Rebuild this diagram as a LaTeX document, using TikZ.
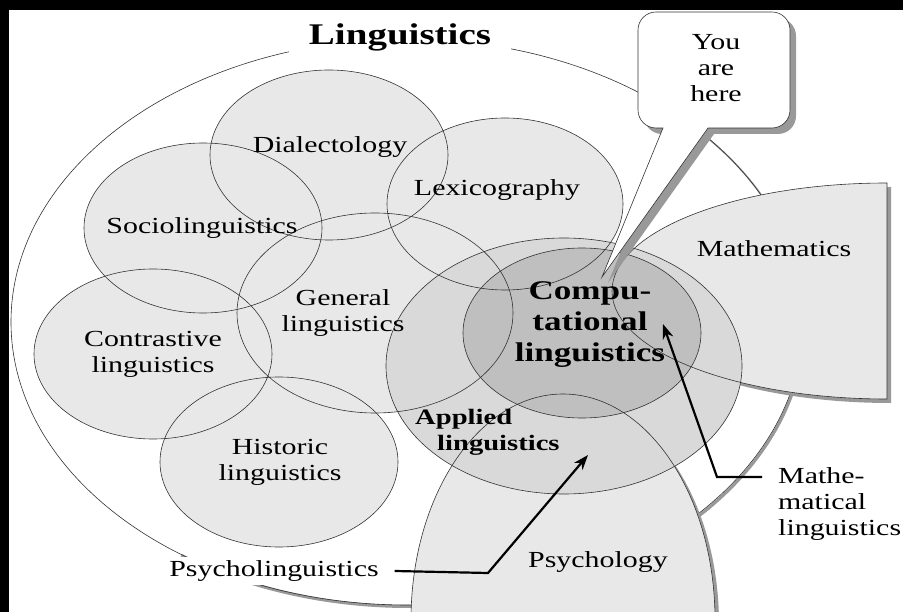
\documentclass[tikz,border=0pt]{standalone}
\usepackage{fontspec}
\setmainfont{Liberation Serif}[FakeStretch=1.3]
\usepackage{tikz}
\usetikzlibrary{shadows}
\usetikzlibrary{arrows.meta}
\definecolor{lgray}{gray}{0.91}
\definecolor{mgray}{gray}{0.85}
\definecolor{dgray}{gray}{0.75}
\definecolor{sgray}{gray}{0.6}
\newcommand\ovals{{329,155}/119/85, {203,228}/119/85, {505,204}/118/86,
    {375,313}/138/100, {153,354}/119/85, {279,462}/119/85}

\begin{document}
\begin{tikzpicture}[x=1pt, y=-1pt,
        O/.style={draw=black!80, line width=0.6pt},
        F/.style={fill=lgray},
        S/.style={drop shadow={shadow xshift=4pt, shadow yshift=-4pt, fill=sgray, opacity=1}},
        SB/.style={drop shadow={shadow xshift=6pt, shadow yshift=-6pt, fill=sgray, opacity=1}},
        SL/.style={sgray, line width=3pt, xshift=1.5pt, yshift=-1.5pt},
        T/.style={font=\fontsize{23}{26}\selectfont, align=center, inner sep=0pt},
        TB/.style={font=\fontsize{27}{31}\selectfont\bfseries, align=center, inner sep=0pt},
        A/.style={line width=2.2pt, ->, >={Stealth[length=15pt, width=11pt]}}
    ]
    \useasboundingbox (0,0) rectangle (903,612);
    \fill[black] (0,0) rectangle (903,612);
    \fill[white] (9,10) rectangle (903,612);

    % outer ellipse
    \draw[SL] (407,322) ++(125:396 and 283)
        arc[start angle=125, end angle=85, x radius=396, y radius=283];
    \draw[SL] (407,322) ++(5:396 and 283)
        arc[start angle=5, end angle=50, x radius=396, y radius=283];
    \draw[SL, line width=1.5pt] (407,322) ++(-42:396 and 283)
        arc[start angle=-42, end angle=-20, x radius=396, y radius=283];
    \draw[O] (407,322) ellipse [x radius=396, y radius=283];

    \path[F, S] (887,183) arc[start angle=-90, end angle=-270, x radius=275, y radius=108] -- cycle;
    \path[F, S] (411,620) arc[start angle=180, end angle=360, x radius=152, y radius=226] -- cycle;

    \foreach \c/\a/\b in \ovals
    {
        \fill[lgray] (\c) ellipse [x radius=\a, y radius=\b];
    }
    \fill[mgray] (564,366) ellipse [x radius=178, y radius=128];
    \fill[dgray] (582,333) ellipse [x radius=119, y radius=85];

    \foreach \c/\a/\b in \ovals
    {
        \draw[O] (\c) ellipse [x radius=\a, y radius=\b];
    }
    \draw[O] (564,366) ellipse [x radius=178, y radius=128];
    \draw[O] (582,333) ellipse [x radius=119, y radius=85];
    \draw[O] (887,183) arc[start angle=-90, end angle=-270, x radius=275, y radius=108] -- cycle;
    \draw[O] (411,620) arc[start angle=180, end angle=360, x radius=152, y radius=226] -- cycle;

    % speech bubble
    \draw[O, fill=white, SB] (663,128) -- (602,277) -- (708,128) -- (772,128)
        arc[start angle=90, end angle=0, radius=18] -- (790,30)
        arc[start angle=0, end angle=-90, radius=18] -- (656,12)
        arc[start angle=-90, end angle=-180, radius=18] -- (638,110)
        arc[start angle=180, end angle=90, radius=18] -- cycle;

    \node[font=\fontsize{30}{36}\selectfont\bfseries, fill=white, inner xsep=20pt, inner ysep=4pt] (ttl) at (400,37) {Linguistics};
    \node[T] (dia) at (330,147) {Dialectology};
    \node[T] (lex) at (497,190) {Lexicography};
    \node[T] (soc) at (202,228) {Sociolinguistics};
    \node[T] (gen) at (343,313) {General\\linguistics};
    \node[T] (con) at (153,354) {Contrastive\\linguistics};
    \node[T] (his) at (280,462) {Historic\\linguistics};
    \node[T] (mth) at (774,249) {Mathematics};
    \node[T] (psg) at (598,562) {Psychology};
    \node[T] (you) at (716,68) {You\\are\\here};
    \node[TB] (cmp) at (590,325) {Compu-\\tational\\linguistics};
    \node[TB, font=\fontsize{22}{26}\selectfont\bfseries, align=left, anchor=west] (apl) at (415,432)
        {Applied\\\hspace*{22pt}linguistics};
    \node[T, fill=white, inner sep=4pt, outer xsep=12pt] (pli) at (274,571) {Psycholinguistics};
    \node[T, align=left, anchor=north west] (mli) at (778,467) {Mathe-\\matical\\linguistics};

    \coordinate (pknee) at (488,573);
    \coordinate (ptip) at (588,455);
    \draw[A] (pli.east) -- (pknee) -- (ptip);
    \coordinate (mstart) at (762,477);
    \coordinate (mknee) at (717,477);
    \coordinate (mtip) at (663,324);
    \draw[A] (mstart) -- (mknee) -- (mtip);
\end{tikzpicture}
\end{document}
